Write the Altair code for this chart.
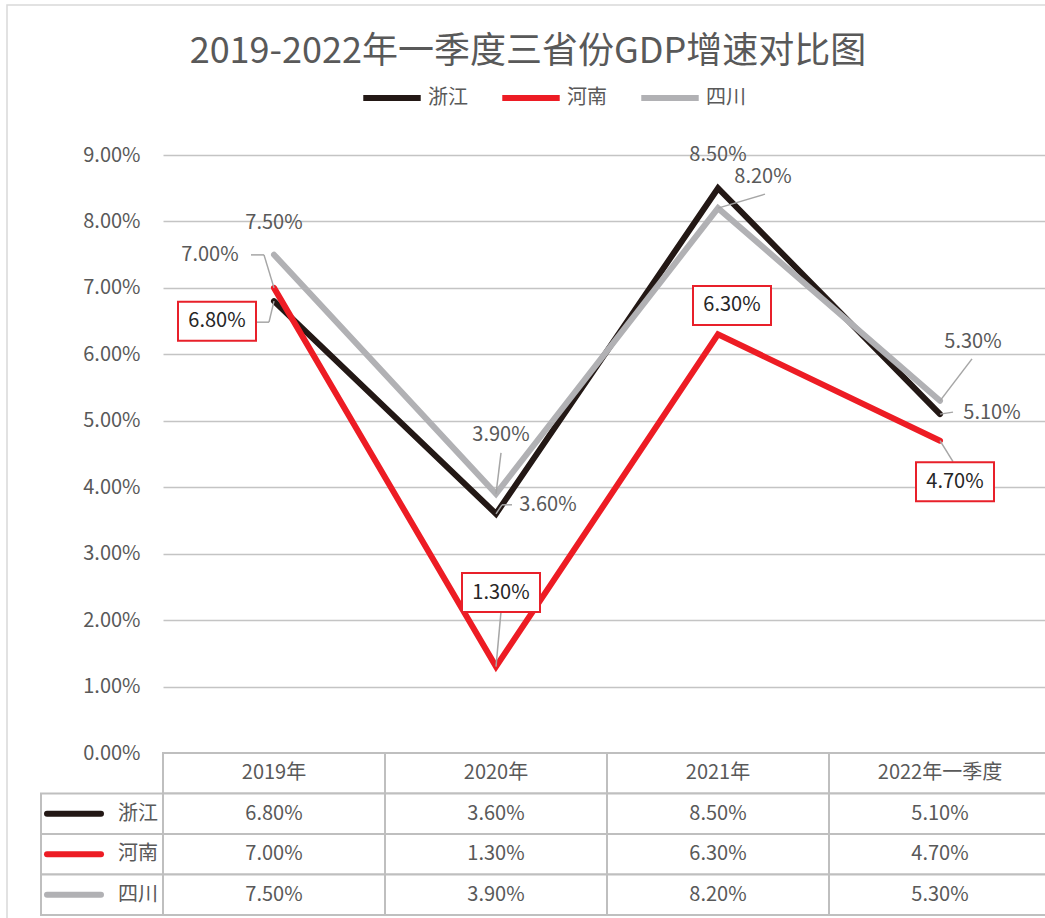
import altair as alt
import pandas as pd

# ---------------- data ----------------
categories = ["2019年", "2020年", "2021年", "2022年一季度"]
provinces = ["浙江", "河南", "四川"]
zhejiang = [6.80, 3.60, 8.50, 5.10]
henan = [7.00, 1.30, 6.30, 4.70]
sichuan = [7.50, 3.90, 8.20, 5.30]
y_ticks = [0, 1, 2, 3, 4, 5, 6, 7, 8, 9]
title_text = "2019-2022年一季度三省份GDP增速对比图"

# ---------------- styles ----------------
FONT = "Noto Sans CJK SC"
colors = {"浙江": "#231815", "河南": "#ed1c24", "四川": "#b1b1b4"}
TXT = "#595959"
GRID = "#c4c4c4"
CELL = "#bfbfbf"
LEAD = "#a6a6a6"

rows = []
for p, vals in zip(provinces, [zhejiang, henan, sichuan]):
    for c, v in zip(categories, vals):
        rows.append({"prov": p, "cat": c, "v": v / 100})
df = pd.DataFrame(rows)

xs = alt.Scale(type="point", domain=categories, padding=0.5, range=[0, 888])
ys = alt.Scale(domain=[0, 0.09], nice=False, zero=True)
rs = alt.Scale(type="band", domain=["hdr"] + provinces, range=[598, 760],
               paddingInner=0, paddingOuter=0)

X = alt.X("cat:N", scale=xs, axis=None)
Y = alt.Y("v:Q", scale=ys, axis=None)

layers = []

# outer chart border
layers.append(
    alt.Chart(pd.DataFrame({"a": [0]})).mark_rect(fillOpacity=0, stroke="#d9d9d9", strokeWidth=1.5)
    .encode(x=alt.value(-156), x2=alt.value(900), y=alt.value(-150), y2=alt.value(800))
)

# ---------------- data table ----------------
cells = pd.DataFrame([{"row": r, "cat": c} for r in ["hdr"] + provinces for c in categories])
layers.append(
    alt.Chart(cells).mark_rect(fill="white", stroke=CELL, strokeWidth=2, xOffset=-111, x2Offset=111)
    .encode(x=X, x2="cat:N", y=alt.Y("row:N", scale=rs, axis=None))
)
keys = pd.DataFrame({"row": provinces, "col": [colors[p] for p in provinces]})
layers.append(
    alt.Chart(keys).mark_rect(fill="white", stroke=CELL, strokeWidth=2)
    .encode(x=alt.value(-122), x2=alt.value(0), y=alt.Y("row:N", scale=rs, axis=None))
)
layers.append(
    alt.Chart(keys).mark_rule(strokeWidth=6, strokeCap="round")
    .encode(x=alt.value(-116), x2=alt.value(-62),
            y=alt.Y("row:N", scale=rs, axis=None, bandPosition=0.5),
            color=alt.Color("col:N", scale=None))
)
layers.append(
    alt.Chart(keys).mark_text(align="right", fontSize=20, color=TXT)
    .encode(x=alt.value(-5), y=alt.Y("row:N", scale=rs, axis=None), text="row:N")
)
hdr = pd.DataFrame({"row": ["hdr"] * len(categories), "cat": categories})
layers.append(
    alt.Chart(hdr).mark_text(fontSize=20, color=TXT)
    .encode(x=X, y=alt.Y("row:N", scale=rs, axis=None), text="cat:N")
)
layers.append(
    alt.Chart(df).mark_text(fontSize=20, color=TXT)
    .encode(x=X, y=alt.Y("prov:N", scale=rs, axis=None), text=alt.Text("v:Q", format=".2%"))
)

# ---------------- lines ----------------
layers.append(
    alt.Chart(df).mark_line(strokeWidth=6, strokeCap="round", strokeJoin="miter")
    .encode(
        x=X,
        y=alt.Y("v:Q", scale=ys, axis=alt.Axis(
            values=[t / 100 for t in y_ticks], format=".2%", grid=True, domain=False,
            ticks=False, labelPadding=23, labelFontSize=20, labelColor=TXT,
            gridColor=GRID, gridWidth=1.5, title=None)),
        color=alt.Color("prov:N", scale=alt.Scale(domain=provinces, range=[colors[p] for p in provinces]),
                        legend=alt.Legend(title=None, orient="none", legendX=197, legendY=-89,
                                          direction="horizontal", symbolType="stroke",
                                          symbolStrokeWidth=6, symbolSize=3300,
                                          labelFontSize=20, labelColor=TXT, labelOffset=4,
                                          columnPadding=22)),
    )
)

# ---------------- data labels (placement offsets in px) ----------------
# (province, category, dx, dy, boxed, leader-line points relative to the point)
label_specs = [
    ("浙江", "2019年", -57, 20, True, [(0, 0), (-5, 21), (-17, 21)]),
    ("河南", "2019年", -64, -33, False, [(0, 0), (-10, -33), (-23, -33)]),
    ("四川", "2019年", 0, -32, False, []),
    ("四川", "2020年", 5, -59, False, [(0, 0), (5, -41)]),
    ("浙江", "2020年", 52, -9, False, [(0, 0), (6, -9), (16, -9)]),
    ("河南", "2020年", 5, -74, True, [(0, 0), (5, -55)]),
    ("浙江", "2021年", 0, -33, False, []),
    ("四川", "2021年", 45, -31, False, [(0, 0), (47, -14)]),
    ("河南", "2021年", 14, -29, True, []),
    ("四川", "2022年一季度", 33, -59, False, [(0, 0), (32, -42)]),
    ("浙江", "2022年一季度", 52, -1, False, [(0, 0), (13, -2)]),
    ("河南", "2022年一季度", 15, 41, True, [(0, 0), (13, 21)]),
]

for prov, cat, dx, dy, boxed, lead in label_specs:
    sub = df[(df.prov == prov) & (df.cat == cat)]
    base = alt.Chart(sub)
    for (ax, ay), (bx, by) in zip(lead[:-1], lead[1:]):
        layers.append(
            base.mark_rule(color=LEAD, strokeWidth=1.5, xOffset=ax, x2Offset=bx, yOffset=ay, y2Offset=by)
            .encode(x=X, x2="cat:N", y=Y, y2="v:Q")
        )
    if boxed:
        layers.append(
            base.mark_rect(fill="white", stroke="#e8202a", strokeWidth=2,
                           xOffset=dx - 39, x2Offset=dx + 39, yOffset=dy - 19.5, y2Offset=dy + 19.5)
            .encode(x=X, x2="cat:N", y=Y, y2="v:Q")
        )
    layers.append(
        base.mark_text(dx=dx, dy=dy, fontSize=20, color="#262626" if boxed else TXT)
        .encode(x=X, y=Y, text=alt.Text("v:Q", format=".2%"))
    )

chart = (
    alt.layer(*layers)
    .resolve_scale(y="independent")
    .properties(
        width=882, height=598,
        padding={"left": 163, "top": 155, "right": 0, "bottom": 165},
        autosize=alt.AutoSizeParams(type="none"),
        title=alt.TitleParams(title_text, fontSize=36, color=TXT, fontWeight="normal",
                              anchor="middle", frame="group", dx=-76, offset=-95,
                              baseline="alphabetic"),
    )
    .configure(font=FONT, background="white")
    .configure_view(stroke=None)
)

chart.save("out.html", embed_options={"renderer": "svg", "actions": False})
